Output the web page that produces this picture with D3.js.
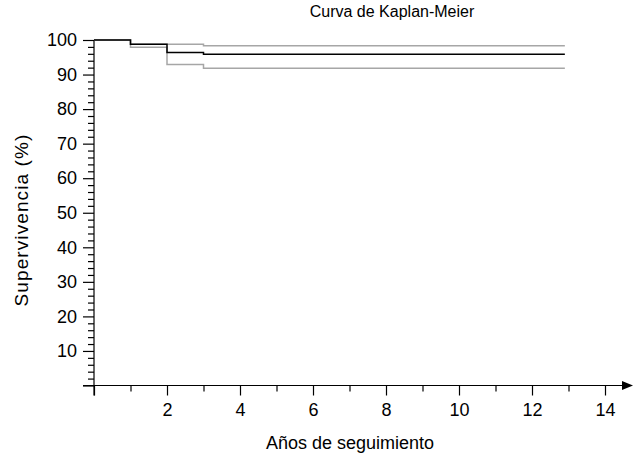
<!DOCTYPE html>
<html>
<head>
<meta charset="utf-8">
<script src="https://cdn.jsdelivr.net/npm/d3@7"></script>
<style>
  body { margin: 0; background: #fff; }
  text { font-family: "Liberation Sans", Arial, sans-serif; }
</style>
</head>
<body>
<div id="chart"></div>
<script>
// step times (years) and survival estimates (%)
var times    = [0, 1, 2, 3];
var tEnd     = 12.9;
var survival = [100, 98.8, 96.4, 95.9];
var upperCI  = [100, 98.8, 98.8, 98.3];
var lowerCI  = [100, 97.9, 92.9, 91.8];

var xMajor = [0, 2, 4, 6, 8, 10, 12, 14];
var xMinor = [1, 3, 5, 7, 9, 11, 13];
var yMajor = [0, 10, 20, 30, 40, 50, 60, 70, 80, 90, 100];

var W = 633, H = 455;
var svg = d3.select("#chart").append("svg")
  .attr("width", W).attr("height", H);

var x = d3.scaleLinear().domain([0, 14]).range([94, 605]);
var y = d3.scaleLinear().domain([0, 100]).range([385.5, 40]);

//build step series, last value carried to end of follow-up
function series(vals) {
  var pts = times.map(function(t, i) { return [t, vals[i]]; });
  pts.push([tEnd, vals[vals.length - 1]]);
  return pts;
}

var line = d3.line()
  .x(function(d) { return x(d[0]); })
  .y(function(d) { return y(d[1]); })
  .curve(d3.curveStepAfter);

// y axis: minor ticks every 2, major every 10
var yMinorTicks = d3.range(0, 101, 2).filter(function(v) { return v % 10 !== 0; });
svg.append("g").attr("transform", "translate(94,0)")
  .call(d3.axisLeft(y).tickValues(yMinorTicks).tickSize(6).tickFormat(""))
  .call(function(g) { g.select(".domain").remove(); });
var yAx = svg.append("g").attr("transform", "translate(94,0)")
  .call(d3.axisLeft(y).tickValues(yMajor).tickSize(11).tickPadding(6)
    .tickFormat(function(d) { return d === 0 ? "" : d; }));
yAx.select(".domain").attr("d", "M0," + y(100) + "V" + (y(0) + 10));

// x axis
svg.append("g").attr("transform", "translate(0," + y(0) + ")")
  .call(d3.axisBottom(x).tickValues(xMinor).tickSize(6).tickFormat(""))
  .call(function(g) { g.select(".domain").remove(); });
var xAx = svg.append("g").attr("transform", "translate(0," + y(0) + ")")
  .call(d3.axisBottom(x).tickValues(xMajor).tickSize(10).tickPadding(8)
    .tickFormat(function(d) { return d === 0 ? "" : d; }));
xAx.select(".domain").attr("d", "M83,0H626");

svg.selectAll(".tick line, .domain").attr("stroke", "#000").attr("stroke-width", 1.2);
svg.selectAll(".tick text").attr("font-size", 18).attr("fill", "#000")
  .style("font-family", "'Liberation Sans', Arial, sans-serif");

// arrow head
svg.append("path")
  .attr("d", "M622," + (y(0) - 4.5) + "L633," + y(0) + "L622," + (y(0) + 4.5) + "Z")
  .attr("fill", "#000");

// curves
svg.append("path").datum(series(upperCI)).attr("d", line)
  .attr("fill", "none").attr("stroke", "#a6a6a6").attr("stroke-width", 1.5);
svg.append("path").datum(series(lowerCI)).attr("d", line)
  .attr("fill", "none").attr("stroke", "#a6a6a6").attr("stroke-width", 1.5);
svg.append("path").datum(series(survival)).attr("d", line)
  .attr("fill", "none").attr("stroke", "#000").attr("stroke-width", 1.5);

// titles
svg.append("text").attr("x", 392).attr("y", 17).attr("text-anchor", "middle")
  .attr("font-size", 16).text("Curva de Kaplan-Meier");
svg.append("text").attr("x", 350).attr("y", 449).attr("text-anchor", "middle")
  .attr("font-size", 18).text("Años de seguimiento");
svg.append("text").attr("transform", "translate(28,220) rotate(-90)")
  .attr("text-anchor", "middle").attr("font-size", 19)
  .attr("letter-spacing", 1.1).text("Supervivencia (%)");
</script>
</body>
</html>
